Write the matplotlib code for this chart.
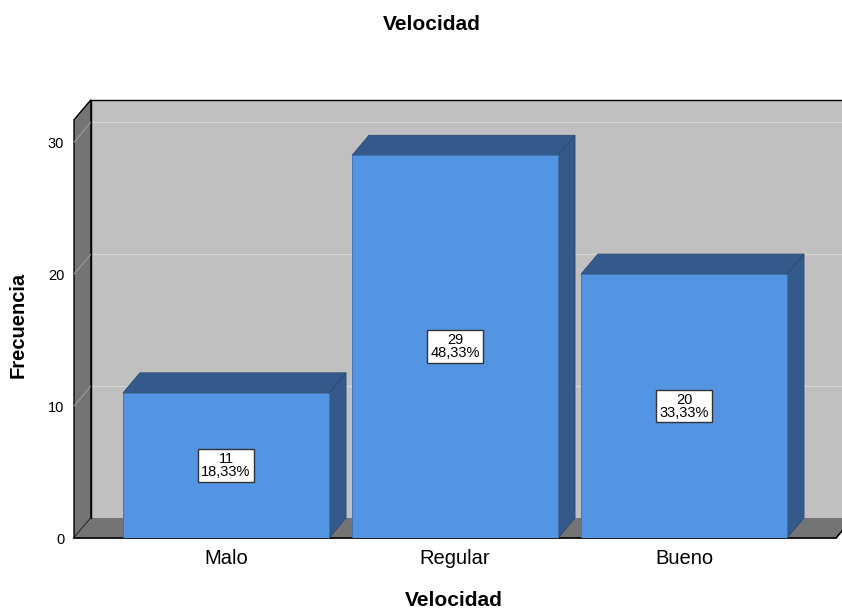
import matplotlib.pyplot as plt
from matplotlib.patches import Polygon

plt.rcParams['font.family'] = ['Liberation Sans', 'DejaVu Sans']

categorias = ["Malo", "Regular", "Bueno"]
frecuencias = [11, 29, 20]
yticks = [0, 10, 20, 30]

total = sum(frecuencias)
porcentajes = [f / total * 100 for f in frecuencias]

# colores estilo SPSS
C_FRENTE = "#5394e3"
C_LADO = "#345a8b"
C_PANEL = "#c0c0c0"
C_PARED = "#747474"
C_GRID = "#d6d6d6"

# desplazamiento de profundidad (unidades de datos)
dx, dy = 0.074, 1.52
x0, xr = -0.664, 2.664
ytop = 31.7
ancho = 0.9

fig = plt.figure(figsize=(8.42, 6.13), dpi=100)
ax = fig.add_axes([0.0879, 0.1223, 1.0 - 0.0879, 0.8369 - 0.1223])
ax.set_xlim(x0, 2.69)
ax.set_ylim(0, 33.2)
for s in ax.spines.values():
    s.set_visible(False)

# panel trasero
ax.add_patch(Polygon([(x0 + dx, dy), (xr + dx + 0.2, dy), (xr + dx + 0.2, ytop + dy), (x0 + dx, ytop + dy)],
                     closed=True, facecolor=C_PANEL, edgecolor="none", zorder=1))
# pared izquierda
ax.add_patch(Polygon([(x0, 0), (x0 + dx, dy), (x0 + dx, ytop + dy), (x0, ytop)],
                     closed=True, facecolor=C_PARED, edgecolor="black", lw=1.0, zorder=2, clip_on=False))
# piso
ax.add_patch(Polygon([(x0, 0), (x0 + dx, dy), (xr + dx, dy), (xr, 0)],
                     closed=True, facecolor=C_PARED, edgecolor="none", zorder=2, clip_on=False))
ax.plot([x0, xr, xr + dx], [0, 0, dy], color="black", lw=1.2, zorder=3, clip_on=False)
ax.plot([x0 + dx, x0 + dx, 2.8], [dy, ytop + dy, ytop + dy], color="black", lw=1.0, zorder=3, clip_on=False)

# líneas de cuadrícula
for v in yticks[1:]:
    ax.plot([x0 + dx, 2.8], [v + dy, v + dy], color=C_GRID, lw=0.8, zorder=1.5)
    ax.plot([x0, x0 + dx], [v, v + dy], color="#9a9a9a", lw=0.8, zorder=2.5)

# barras 3D
for i, (f, p) in enumerate(zip(frecuencias, porcentajes)):
    l, r = i - ancho / 2, i + ancho / 2
    ax.add_patch(Polygon([(r, 0), (r + dx, dy), (r + dx, f + dy), (r, f)],
                         closed=True, facecolor=C_LADO, edgecolor="#2b4a73", lw=0.6, zorder=4))
    ax.add_patch(Polygon([(l, f), (l + dx, f + dy), (r + dx, f + dy), (r, f)],
                         closed=True, facecolor=C_LADO, edgecolor="#2b4a73", lw=0.6, zorder=4))
    ax.add_patch(Polygon([(l, 0), (r, 0), (r, f), (l, f)],
                         closed=True, facecolor=C_FRENTE, edgecolor="#3d6fa8", lw=0.6, zorder=5))
    etiqueta = f"{f}\n{p:.2f}%".replace(".", ",")
    ax.text(i, f / 2, etiqueta, ha="center", va="center", fontsize=10.5, linespacing=0.9, zorder=6,
            bbox=dict(boxstyle="square,pad=0.2", facecolor="white", edgecolor="#333333", lw=1.0))

ax.set_xticks(range(len(categorias)))
ax.set_xticklabels(categorias, fontsize=14.5)
ax.set_yticks(yticks)
ax.set_yticklabels([str(t) for t in yticks], fontsize=10.5)
ax.tick_params(axis="x", length=0, pad=8)
ax.tick_params(axis="y", length=0, pad=7)

fig.text(432 / 842, 1 - 25 / 613, "Velocidad", ha="center", va="center", fontsize=15, fontweight="bold")
fig.text(454 / 842, 1 - 601 / 613, "Velocidad", ha="center", va="center", fontsize=15, fontweight="bold")
fig.text(18 / 842, 1 - 325 / 613, "Frecuencia", ha="center", va="center", rotation=90,
         fontsize=14.5, fontweight="bold")

fig.savefig("out.png", dpi=100)
